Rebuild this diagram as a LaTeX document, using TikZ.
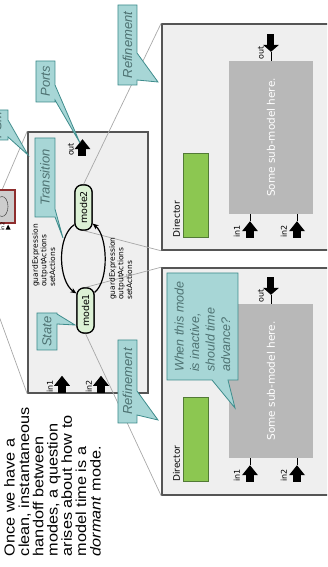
\documentclass[tikz,border=0pt]{standalone}
\usepackage{fontspec}
\setmainfont{Liberation Sans}
\newfontfamily\ptfont{DejaVu Sans}
\usetikzlibrary{positioning, calc, arrows.meta}

\definecolor{boxgray}{HTML}{EFEFEF}
\definecolor{edgegray}{HTML}{555555}
\definecolor{subgray}{HTML}{B8B8B8}
\definecolor{dirgreen}{HTML}{8CC751}
\definecolor{diredge}{HTML}{527A36}
\definecolor{modegreen}{HTML}{DCF1D5}
\definecolor{callfill}{HTML}{A7D6D6}
\definecolor{calledge}{HTML}{3E8C8C}
\definecolor{calltext}{HTML}{4E7272}
\definecolor{zoomgray}{HTML}{A8A8A8}
\definecolor{iconred}{HTML}{8E2E2E}

\tikzset{
  actorbox/.style={draw=edgegray, line width=1.6pt, fill=boxgray, inner sep=0pt},
  submodel/.style={fill=subgray, inner sep=0pt, text=white,
    font=\ptfont\fontsize{10.5}{12}\selectfont},
  director/.style={draw=diredge, line width=0.8pt, fill=dirgreen, inner sep=0pt,
    minimum width=84pt, minimum height=25pt},
  mode/.style={draw, line width=1.2pt, fill=modegreen, rounded corners=7pt,
    minimum width=45pt, minimum height=17pt, inner sep=0pt,
    font=\ptfont\fontsize{9.5}{11}\selectfont},
  trans/.style={line width=1.2pt, -{Stealth[length=6pt,width=5pt]}},
  zoomline/.style={draw=zoomgray, line width=0.7pt},
  callout/.style={draw=calledge, line width=0.8pt, fill=callfill, line join=miter},
  calloutlabel/.style={text=calltext, font=\itshape\fontsize{13}{15}\selectfont, inner sep=0pt},
  portlabel/.style={font=\ptfont\fontsize{8}{9}\selectfont, inner sep=0pt},
  guardlabel/.style={font=\ptfont\fontsize{7.5}{8.6}\selectfont, align=left, inner sep=0pt},
  inport/.pic={\fill (-17,-4) rectangle (-10,4); \fill (-10,-8) -- (0,0) -- (-10,8) -- cycle;},
  outport/.pic={\fill (0,0) -- (7,8) -- (7,-8) -- cycle; \fill (7,-3.5) rectangle (18,3.5);},
}

\begin{document}
\begin{tikzpicture}[x=1pt, y=1pt, rotate=90, transform shape]

    \useasboundingbox (0,0) rectangle (567,327);
    \clip (0,0) rectangle (567,327);

    % --- Slide text ---
    \node[anchor=north west, inner sep=0pt, align=left, xscale=1.12,
          font=\fontsize{14.5}{14.3}\selectfont] (intro) at (10.7,323)
        {Once we have a\\clean, instantaneous\\handoff between\\modes, a question\\
         arises about how to\\model time is a\\\textit{dormant} mode.};

    % --- Refinements of the two modes ---
    \node[actorbox, minimum width=227pt, minimum height=185pt] (refOne) at (185.5,72.5) {};
    \node[actorbox, minimum width=226pt, minimum height=185pt] (refTwo) at (430,72.5) {};

    \node[submodel, minimum width=154pt, minimum height=84pt] (subOne) at (186,56) {Some sub-model here.};
    \node[submodel, minimum width=153pt, minimum height=84pt] (subTwo) at (429.5,56) {Some sub-model here.};

    \node[director] (dirOne) at (127.5,131.5) {};
    \node[director] (dirTwo) at (372,131.5) {};

    \foreach \r in {One,Two} {
        \node[portlabel, anchor=south west, font=\ptfont\fontsize{9}{10}\selectfont]
            (dirLbl\r) at ($(dir\r.north west)+(0,2.5)$) {Director};
        % input ports on the left of the sub-model
        \coordinate (inA\r) at ($(sub\r.west)+(-7,21)$);
        \coordinate (inB\r) at ($(sub\r.west)+(-7,-26)$);
        \draw[line width=0.8pt] (inA\r) -- (inA\r -| sub\r.west);
        \draw[line width=0.8pt] (inB\r) -- (inB\r -| sub\r.west);
        \pic at (inA\r) {inport};
        \pic at (inB\r) {inport};
        \node[portlabel, anchor=south west] (inALbl\r) at ($(inA\r)+(-17,10)$) {in1};
        \node[portlabel, anchor=south west] (inBLbl\r) at ($(inB\r)+(-17,10)$) {in2};
        % output port on the right
        \coordinate (out\r) at ($(sub\r.east)+(9,0)$);
        \draw[line width=0.8pt] (sub\r.east) -- (out\r);
        \pic at (out\r) {outport};
        \node[portlabel, anchor=south west] (outLbl\r) at ($(sub\r.east)+(1,7)$) {out};
    }

    % --- FSM ---
    \node[actorbox, minimum width=261pt, minimum height=120pt] (fsm) at (304.5,239) {};

    % zoom lines towards the icon above and to the refinements
    \coordinate (iconL) at (284,340);
    \coordinate (iconR) at (342,340);
    \draw[zoomline] (fsm.north west) -- (iconL);
    \draw[zoomline] (fsm.north east) -- (iconR);

    \node[draw=iconred, line width=1.2pt, fill=subgray!70, minimum width=33pt,
          minimum height=34pt, inner sep=0pt] (icon) at (360.5,329) {};
    \draw[edgegray, line width=0.6pt] (360.5,325) ellipse (10 and 6);
    \fill ($(icon.south west)+(-6,5)$) -- ++(5,2.5) -- ++(-5,2.5) -- cycle;
    \node[font=\ptfont\fontsize{5}{6}\selectfont, inner sep=0pt, anchor=south west]
        (iconIn) at ($(icon.south west)+(-7,11)$) {in2};

    % FSM ports
    \coordinate (fIn1) at ($(fsm.west)+(18,26)$);
    \coordinate (fIn2) at ($(fsm.west)+(18,-13)$);
    \coordinate (fOut) at ($(fsm.east)+(-8,5.5)$);
    \pic at (fIn1) {inport};
    \pic at (fIn2) {inport};
    \pic at (fOut) {inport};
    \node[portlabel, anchor=south west] (fIn1Lbl) at ($(fIn1)+(-17,9)$) {in1};
    \node[portlabel, anchor=south west] (fIn2Lbl) at ($(fIn2)+(-17,9)$) {in2};
    \node[portlabel, anchor=south west] (fOutLbl) at ($(fOut)+(-17,8.5)$) {out};

    % states
    \node[mode] (mOne) at (256.5,241.5) {mode1};
    \node[mode] (mTwo) at (359.5,243.5) {mode2};

    \draw[zoomline] (mTwo.east) -- (refTwo.north east);
    \draw[zoomline] (mTwo.west) -- (refTwo.north west);
    \draw[zoomline] (mOne.east) -- (refOne.north east);
    \draw[zoomline] (mOne.west) -- (refOne.north west);

    % transitions
    \draw[trans] ($(mTwo.north west)+(6,0)$) .. controls +(-12,18) and +(12,18) .. ($(mOne.north east)+(-6,0)$);
    \draw[trans] ($(mOne.south east)+(-5,0)$) .. controls +(12,-15) and +(-12,-15) .. ($(mTwo.south west)+(7,0)$);
    \node[guardlabel, anchor=north west] (gTop) at (280,295) {guardExpression\\outputActions\\setActions};
    \node[guardlabel, anchor=north west] (gBot) at (267,218) {guardExpression\\outputActions\\setActions};

    \node[mode] at (mOne) {mode1};
    \node[mode] at (mTwo) {mode2};

    % --- Callouts ---
    \draw[callout] (482,190) -- (487,190) -- (485,169) -- (514,190) -- (562,190) -- (562,209) -- (482,209) -- cycle;
    \node[calloutlabel] (cRefTwo) at (522,199.5) {Refinement};

    \draw[callout] (144,190) -- (152,190) -- (147,169) -- (176,190) -- (227,190) -- (227,209) -- (144,209) -- cycle;
    \node[calloutlabel] (cRefOne) at (185.5,199.5) {Refinement};

    \draw[callout] (465,272) -- (467,272) -- (424,247) -- (482,272) -- (506,272) -- (506,291) -- (465,291) -- cycle;
    \node[calloutlabel] (cPorts) at (485.5,281.5) {Ports};

    \draw[callout] (427,319) -- (430,319) -- (412,299) -- (447,319) -- (457,319) -- (457,341) -- (427,341) -- cycle;
    \node[calloutlabel] (cFsm) at (442,330) {FSM};

    \draw[callout] (350,272) -- (329,264) -- (358,272) -- (429,272) -- (429,292) -- (350,292) -- cycle;
    \node[calloutlabel] (cTrans) at (389.5,282) {Transition};

    \draw[callout] (217,270) -- (243,270) -- (242,252) -- (253,270) -- (254,270) -- (254,290) -- (217,290) -- cycle;
    \node[calloutlabel] (cState) at (235.5,280) {State};

    \draw[callout] (187,89) -- (294,89) -- (294,160) -- (187,160) -- (187,115) -- (159,92) -- (187,99) -- cycle;
    \node[calloutlabel, anchor=west, align=left, font=\itshape\fontsize{12.5}{15.5}\selectfont]
        (cInactive) at (195,124.5) {When this mode\\is inactive,\\should time\\advance?};

\end{tikzpicture}
\end{document}
